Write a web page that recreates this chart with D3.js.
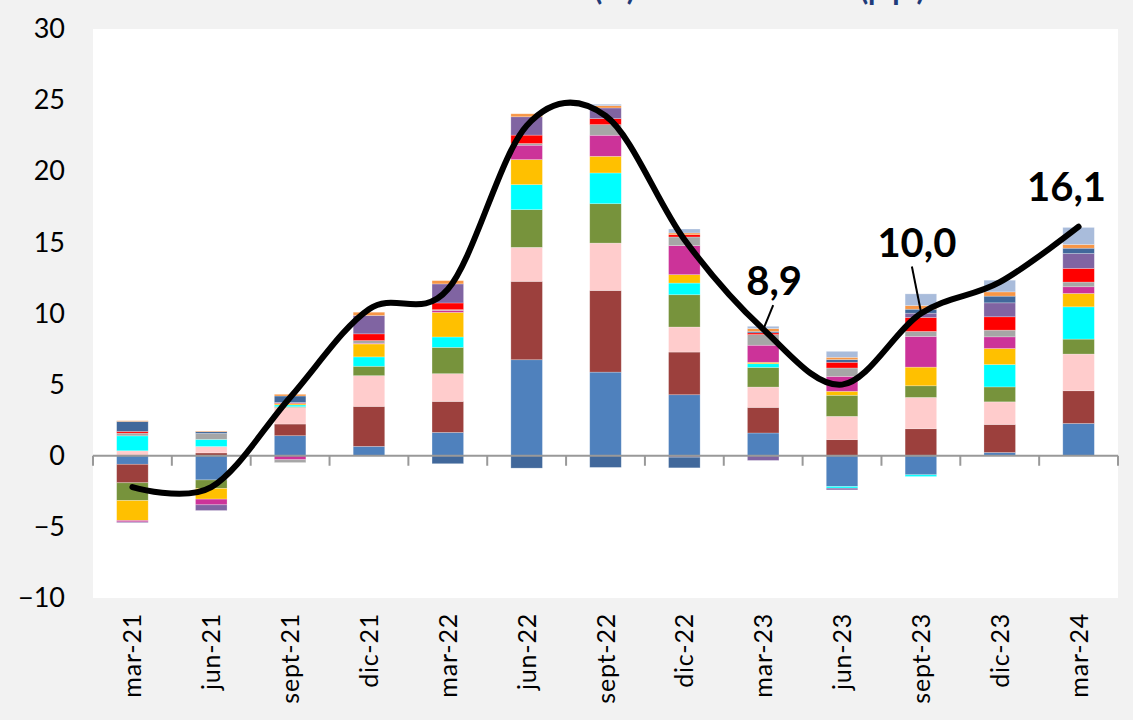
<!DOCTYPE html>
<html>
<head>
<meta charset="utf-8">
<script src="https://cdn.jsdelivr.net/npm/d3@7"></script>
<style>
  html, body { margin: 0; padding: 0; background: #f2f2f2; }
  svg { display: block; font-family: Lato, "Open Sans", sans-serif; }
</style>
</head>
<body>
<svg id="chart" width="1133" height="720"></svg>
<script>
const categories = ['mar-21', 'jun-21', 'sept-21', 'dic-21', 'mar-22', 'jun-22', 'sept-22', 'dic-22', 'mar-23', 'jun-23', 'sept-23', 'dic-23', 'mar-24'];

// contributions (p.p.), bottom to top of the stack
const blue = [-0.6, -1.7, 1.41, 0.66, 1.64, 6.75, 5.88, 4.29, 1.6, -2.16, -1.34, 0.23, 2.27];
const darkRed = [-1.3, 0.2, 0.82, 2.81, 2.18, 5.51, 5.74, 3.0, 1.8, 1.13, 1.9, 1.97, 2.3];
const pink = [0.35, 0.45, 1.17, 2.16, 1.95, 2.39, 3.33, 1.76, 1.43, 1.64, 2.2, 1.59, 2.58];
const olive = [-1.25, -0.6, 0.05, 0.66, 1.85, 2.65, 2.77, 2.27, 1.38, 1.48, 0.82, 1.05, 1.05];
const cyan = [1.05, 0.5, 0.12, 0.66, 0.73, 1.76, 2.16, 0.82, 0.26, -0.12, -0.12, 1.57, 2.27];
const gold = [-1.4, -0.75, 0.08, 0.91, 1.73, 1.76, 1.17, 0.59, 0.1, 0.28, 1.31, 1.13, 0.94];
const magenta = [-0.1, -0.4, -0.28, 0.05, 0.14, 1.01, 1.48, 2.04, 1.2, 1.05, 2.16, 0.82, 0.47];
const gray = [0.19, 0.42, -0.2, 0.19, 0.05, 0.12, 0.75, 0.61, 0.75, 0.59, 0.35, 0.47, 0.33];
const red = [0.12, 0, 0.05, 0.47, 0.47, 0.59, 0.42, 0.16, 0.12, 0.4, 0.98, 0.94, 0.96];
const purple = [-0.05, -0.4, 0.05, 1.29, 1.34, 1.29, 0.75, -0.1, -0.33, -0.12, 0.3, 0.98, 1.05];
const darkBlue = [0.7, 0.12, 0.45, 0, -0.56, -0.87, -0.82, -0.75, 0.1, 0.19, 0.28, 0.47, 0.37];
const orange = [0.05, 0.05, 0.12, 0.23, 0.23, 0.21, 0.16, 0.12, 0.2, 0.16, 0.26, 0.3, 0.26];
const lightSteel = [0, 0, 0, 0, 0, 0, 0.1, 0.28, 0.16, 0.42, 0.82, 0.82, 1.2];

// headline inflation (%)
const total = [-2.2, -2.2, 4.1, 10.3, 11.7, 23.2, 23.9, 15.2, 8.9, 5.0, 10.0, 12.2, 16.1];

const yTicks = [-10, -5, 0, 5, 10, 15, 20, 25, 30];

// labelled points
const callouts = [
  { i: 8, text: '8,9' },
  { i: 10, text: '10,0' },
  { i: 12, text: '16,1' },
];

const seriesList = [
  { key: 'blue', values: blue, color: '#4f81bd' },
  { key: 'darkRed', values: darkRed, color: '#9c403d' },
  { key: 'pink', values: pink, color: '#ffcccc' },
  { key: 'olive', values: olive, color: '#77933c' },
  { key: 'cyan', values: cyan, color: '#00ffff' },
  { key: 'gold', values: gold, color: '#ffc000' },
  { key: 'magenta', values: magenta, color: '#cc3399' },
  { key: 'gray', values: gray, color: '#a6a6a6' },
  { key: 'red', values: red, color: '#ff0000' },
  { key: 'purple', values: purple, color: '#8064a2' },
  { key: 'darkBlue', values: darkBlue, color: '#41689b' },
  { key: 'orange', values: orange, color: '#f79646' },
  { key: 'lightSteel', values: lightSteel, color: '#a9bcdb' },
];

const MARGIN = { top: 29, right: 15, bottom: 122, left: 93 };
const width = 1133;
const height = 720;
const chartWidth = width - MARGIN.left - MARGIN.right;
const chartHeight = height - MARGIN.top - MARGIN.bottom;

const rows = categories.map((c, i) => {
  const row = { cat: c };
  seriesList.forEach((s) => { row[s.key] = s.values[i]; });
  return row;
});

const stacked = d3.stack()
  .keys(seriesList.map((s) => s.key))
  .offset(d3.stackOffsetDiverging)(rows);

const xScale = d3.scaleBand().domain(categories).range([0, chartWidth]).paddingInner(0.6).paddingOuter(0.3);
const yScale = d3.scaleLinear().domain([-10, 30]).range([chartHeight, 0]);
const step = xScale.step();
const cx = (c) => xScale(c) + xScale.bandwidth() / 2;

const svg = d3.select('#chart');
svg.append('rect').attr('width', width).attr('height', height).attr('fill', '#f2f2f2');

// title, mostly above the frame (only descenders show, as in the source)
const title = svg.append('g').attr('fill', '#1f3c7a').attr('font-weight', 700).attr('font-size', 30);
title.append('text').attr('x', 586).attr('y', 0).attr('text-anchor', 'end').text('Inflación total');
title.append('text').attr('x', 594).attr('y', 0).text('(%)');
title.append('text').attr('x', 750).attr('y', 0).attr('text-anchor', 'middle').text('e incidencias');
title.append('text').attr('x', 860).attr('y', 0).text('(p.p.)');

const g = svg.append('g').attr('transform', `translate(${MARGIN.left},${MARGIN.top})`);
g.append('rect').attr('width', chartWidth).attr('height', chartHeight).attr('fill', '#ffffff');

// bars
g.selectAll('g.series')
  .data(stacked)
  .enter()
  .append('g')
  .attr('class', 'series')
  .attr('fill', (d, i) => seriesList[i].color)
  .selectAll('rect')
  .data((d) => d)
  .enter()
  .append('rect')
  .attr('x', (d) => xScale(d.data.cat))
  .attr('y', (d) => yScale(Math.max(d[0], d[1])))
  .attr('width', xScale.bandwidth())
  .attr('height', (d) => Math.abs(yScale(d[0]) - yScale(d[1])))
  .attr('stroke', '#ffffff')
  .attr('stroke-opacity', 0.35)
  .attr('stroke-width', 0.7);

// zero axis with category boundary ticks
const y0 = yScale(0);
const axis = g.append('g').attr('stroke', '#999999').attr('stroke-width', 2);
axis.append('line').attr('x1', 0).attr('x2', chartWidth).attr('y1', y0).attr('y2', y0);
d3.range(categories.length + 1).forEach((i) => {
  const x = i < categories.length ? cx(categories[i]) - step / 2 : cx(categories[i - 1]) + step / 2;
  axis.append('line').attr('x1', x).attr('x2', x).attr('y1', y0).attr('y2', y0 + 10);
});

// y labels
svg.append('g')
  .attr('transform', `translate(${MARGIN.left},${MARGIN.top})`)
  .call(d3.axisLeft(yScale).tickValues(yTicks).tickSize(0).tickPadding(28).tickFormat(d3.format('d')))
  .call((a) => a.select('.domain').remove())
  .selectAll('text')
  .attr('font-family', 'Lato, sans-serif')
  .attr('font-size', 27)
  .attr('fill', '#000');

// category labels
g.selectAll('text.cat')
  .data(categories)
  .enter()
  .append('text')
  .attr('class', 'cat')
  .attr('transform', (d) => `translate(${cx(d) + 9},${chartHeight + 15}) rotate(-90)`)
  .attr('text-anchor', 'end')
  .attr('font-size', 25)
  .attr('letter-spacing', 0.8)
  .attr('fill', '#000')
  .text((d) => d);

// headline line
const line = d3.line()
  .x((d, i) => cx(categories[i]))
  .y((d) => yScale(d))
  .curve(d3.curveCardinal.tension(0));
g.append('path')
  .datum(total)
  .attr('d', line)
  .attr('fill', 'none')
  .attr('stroke', '#000')
  .attr('stroke-width', 6)
  .attr('stroke-linecap', 'round');

// callout labels
const labelPos = { 8: [11, -34], 10: [-4, -57], 12: [-12, -26] };
callouts.forEach((c) => {
  const px = cx(categories[c.i]);
  const py = yScale(total[c.i]);
  const [dx, dy] = labelPos[c.i];
  if (c.i !== 12) {
    g.append('line')
      .attr('x1', px + (c.i === 8 ? 1 : 0))
      .attr('y1', py - 2)
      .attr('x2', px + dx - (c.i === 8 ? 1 : 5))
      .attr('y2', py + dy + 10)
      .attr('stroke', '#000')
      .attr('stroke-width', 2);
  }
  g.append('text')
    .attr('x', px + dx)
    .attr('y', py + dy)
    .attr('text-anchor', 'middle')
    .attr('font-size', 40)
    .attr('font-weight', 700)
    .attr('fill', '#000')
    .text(c.text);
});
</script>
</body>
</html>
